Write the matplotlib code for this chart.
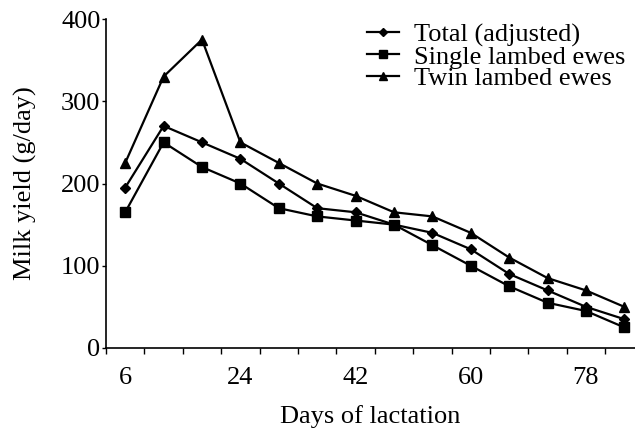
import numpy as np
import matplotlib.pyplot as plt
from matplotlib.ticker import FixedLocator

# days of lactation (category centres) and milk yield in g/day
days = [6, 12, 18, 24, 30, 36, 42, 48, 54, 60, 66, 72, 78, 84]
total_adj = [195, 270, 250, 230, 200, 170, 165, 150, 140, 120, 90, 70, 50, 35]
single = [165, 250, 220, 200, 170, 160, 155, 150, 125, 100, 75, 55, 45, 25]
twin = [225, 330, 375, 250, 225, 200, 185, 165, 160, 140, 110, 85, 70, 50]

x_labels = [6, 24, 42, 60, 78]
y_ticks = [0, 100, 200, 300, 400]

plt.rcParams["font.family"] = ["Liberation Serif", "DejaVu Serif"]

fig = plt.figure(figsize=(6.35, 4.28), dpi=100)
ax = fig.add_axes([106 / 635, 1 - 348 / 428, 1 - 106 / 635, (348 - 19) / 428])

style = dict(color="black", lw=1.6)
ax.plot(days, total_adj, marker="D", ms=5.5, label="Total (adjusted)", **style)
ax.plot(days, single, marker="s", ms=7, label="Single lambed ewes", **style)
ax.plot(days, twin, marker="^", ms=7.5, label="Twin lambed ewes", **style)

ax.set_xlim(3, 3 + (635 - 106) / 6.4)
ax.set_ylim(0, 400)
ax.set_yticks(y_ticks)
ax.set_xticks(x_labels)
ax.xaxis.set_minor_locator(FixedLocator(np.arange(3, 88, 6)))
ax.tick_params(axis="x", which="major", length=0, pad=14, labelsize=19)
ax.tick_params(axis="x", which="minor", length=4, width=1, direction="out")
ax.tick_params(axis="y", length=3, width=1, pad=1, labelsize=19)

for side in ("top", "right"):
    ax.spines[side].set_visible(False)
for side in ("left", "bottom"):
    ax.spines[side].set_linewidth(1.2)

ax.set_xlabel("Days of lactation", fontsize=19, labelpad=11)
ax.set_ylabel("Milk yield (g/day)", fontsize=19, labelpad=17)

ax.legend(loc="upper left", bbox_to_anchor=(367 / 635, 1 - 23 / 428),
          bbox_transform=fig.transFigure, frameon=False, fontsize=19,
          borderpad=0, borderaxespad=0, handlelength=1.2, handletextpad=0.6,
          labelspacing=-0.07, markerscale=0.75)

fig.savefig("out.png", dpi=100)
